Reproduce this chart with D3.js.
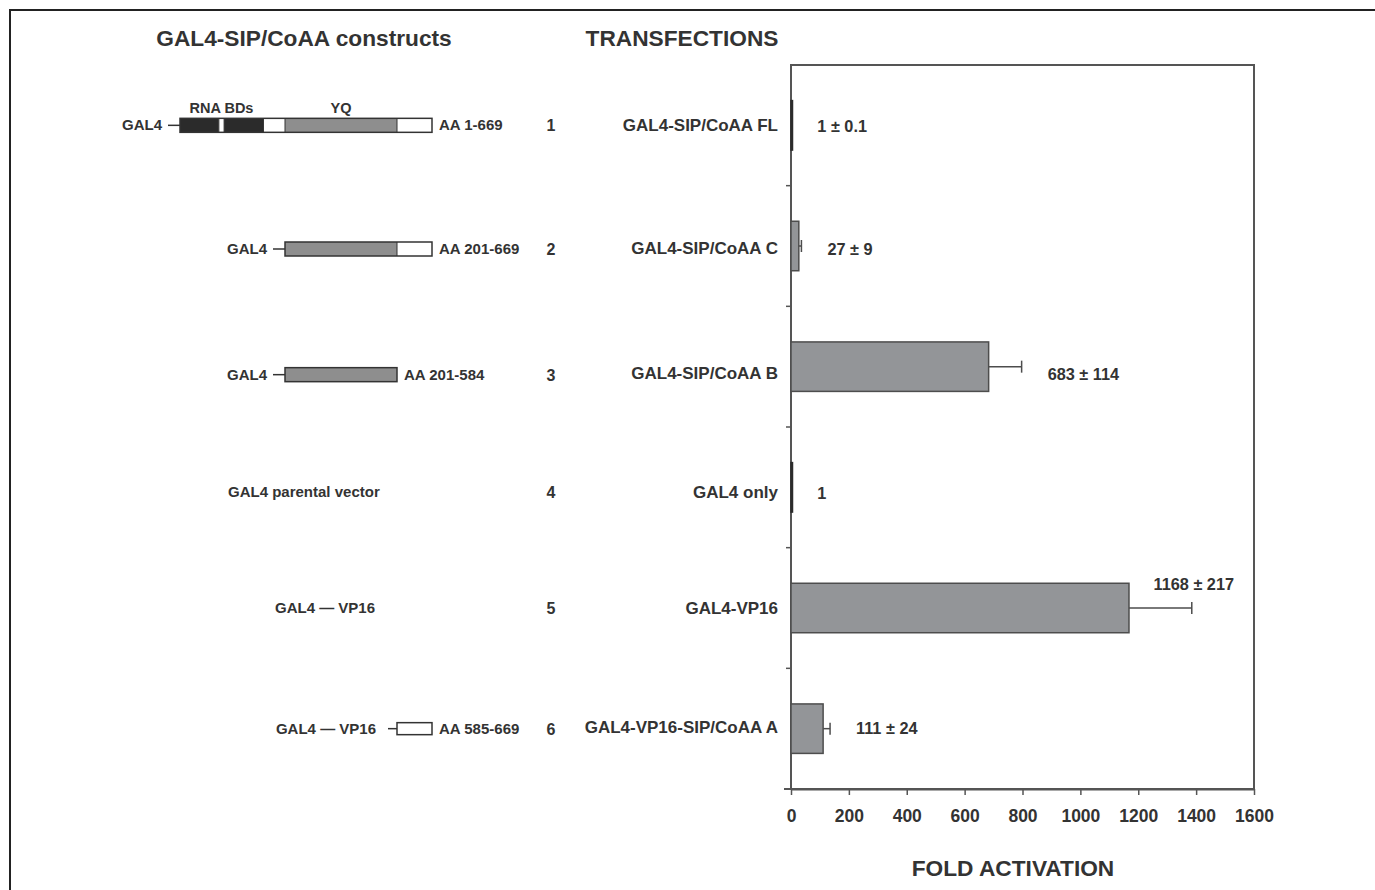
<!DOCTYPE html>
<html><head><meta charset="utf-8">
<script src="https://cdn.jsdelivr.net/npm/d3@7"></script>
<style>
html,body{margin:0;padding:0;background:#fff;}
svg{display:block;font-family:"Liberation Sans",Arial,sans-serif;font-weight:bold;}
</style></head>
<body>
<svg id="chart" width="1375" height="890"></svg>
<script>
// ---- data ----
const categories = ["GAL4-SIP/CoAA FL","GAL4-SIP/CoAA C","GAL4-SIP/CoAA B","GAL4 only","GAL4-VP16","GAL4-VP16-SIP/CoAA A"];
const values = [1, 27, 683, 1, 1168, 111];
const errors = [0.1, 9, 114, 0, 217, 24];
const valueLabels = ["1 \u00b1 0.1","27 \u00b1 9","683 \u00b1 114","1","1168 \u00b1 217","111 \u00b1 24"];
const xTicks = [0,200,400,600,800,1000,1200,1400,1600];
const constructNumbers = ["1","2","3","4","5","6"];
const constructPrefix = ["GAL4","GAL4","GAL4","GAL4 parental vector","GAL4 \u2014 VP16","GAL4 \u2014 VP16"];
const constructSuffix = ["AA 1-669","AA 201-669","AA 201-584","","","AA 585-669"];
// segments: [startAA, endAA, type]
const constructSegments = [
  [[1,75,"rna"],[75,85,"white"],[85,160,"rna"],[160,201,"white"],[201,585,"yq"],[585,669,"white"]],
  [[201,585,"yq"],[585,669,"white"]],
  [[201,585,"yq"]],
  [],
  [],
  [[585,669,"white"]]
];
const domainLabels = [["RNA BDs", 80], ["YQ", 393]];

const svg = d3.select("#chart");
const ink = "#333";

// outer frame
svg.append("rect").attr("x",10).attr("y",10).attr("width",1400).attr("height",900)
  .attr("fill","none").attr("stroke","#222").attr("stroke-width",2);

// titles
svg.append("text").attr("x",304).attr("y",46).attr("text-anchor","middle")
  .attr("font-size",22.7).attr("fill",ink).text("GAL4-SIP/CoAA constructs");
svg.append("text").attr("x",682).attr("y",46).attr("text-anchor","middle")
  .attr("font-size",22.7).attr("fill",ink).text("TRANSFECTIONS");

// scales
const plot = {left:791, right:1254, top:65, bottom:789};
const x = d3.scaleLinear().domain([0,1600]).range([plot.left, plot.right]);
const y = d3.scaleBand().domain(categories).range([plot.top, plot.bottom]).paddingInner(0.59).paddingOuter(0.295);
const yOuter = d3.scaleBand().domain(categories).range([plot.top, plot.bottom]);
const rowY = i => yOuter(categories[i]) + yOuter.bandwidth()/2;
const rowShift = [0, 2, 6, 5, 0, -2];
const labelRowY = i => rowY(i) + rowShift[i];

// plot frame
svg.append("rect").attr("x",plot.left).attr("y",plot.top)
  .attr("width",plot.right-plot.left).attr("height",plot.bottom-plot.top)
  .attr("fill","none").attr("stroke","#555").attr("stroke-width",2);

// y boundary ticks
svg.append("g").selectAll("line").data(categories.slice(1)).join("line")
  .attr("x1",plot.left-5).attr("x2",plot.left)
  .attr("y1",d=>yOuter(d)).attr("y2",d=>yOuter(d))
  .attr("stroke","#555").attr("stroke-width",1.5);

// x axis
const xAxis = svg.append("g").attr("transform",`translate(0,${plot.bottom})`)
  .call(d3.axisBottom(x).tickValues(xTicks).tickFormat(d3.format("d")).tickSize(6).tickPadding(15).tickSizeOuter(0));
xAxis.select(".domain").attr("stroke","#555").attr("stroke-width",2);
xAxis.selectAll(".tick line").attr("stroke","#555").attr("stroke-width",1.5);
xAxis.selectAll(".tick text").attr("font-size",17.5).attr("font-family","Liberation Sans, Arial, sans-serif")
  .attr("font-weight","bold").attr("fill",ink);
svg.append("line").attr("x1",plot.left-7).attr("x2",plot.left).attr("y1",plot.bottom).attr("y2",plot.bottom)
  .attr("stroke","#555").attr("stroke-width",2);

svg.append("text").attr("x",1013).attr("y",876).attr("text-anchor","middle")
  .attr("font-size",22.7).attr("fill",ink).text("FOLD ACTIVATION");

// category labels
svg.append("g").selectAll("text").data(categories).join("text")
  .attr("x",778).attr("y",(d,i)=>labelRowY(i)+6).attr("text-anchor","end")
  .attr("font-size",17).attr("fill",ink).text(d=>d);

// bars
const bars = svg.append("g");
categories.forEach((c,i)=>{
  const w = x(values[i]) - x(0);
  const small = w < 3;
  bars.append("rect").attr("x",x(0)).attr("y",y(c))
    .attr("width",Math.max(w,1.5)).attr("height",y.bandwidth())
    .attr("fill", small ? "#2b2b2b" : "#939598")
    .attr("stroke", small ? "#2b2b2b" : "#4d4d4d").attr("stroke-width",1.5);
  if (errors[i] > 0.5) {
    const cy = y(c) + y.bandwidth()/2;
    const x1 = x(values[i]), x2 = x(values[i]+errors[i]);
    bars.append("line").attr("x1",x1).attr("x2",x2).attr("y1",cy).attr("y2",cy)
      .attr("stroke","#4d4d4d").attr("stroke-width",1.5);
    bars.append("line").attr("x1",x2).attr("x2",x2).attr("y1",cy-6).attr("y2",cy+6)
      .attr("stroke","#4d4d4d").attr("stroke-width",1.5);
  }
});

// value labels
svg.append("g").selectAll("text").data(valueLabels).join("text")
  .attr("x",(d,i)=> i===4 ? x(values[i]+errors[i]) + 2 : x(values[i]+errors[i]) + 26)
  .attr("y",(d,i)=> i===4 ? y(categories[i]) + 7 : labelRowY(i)+7)
  .attr("text-anchor",(d,i)=> i===4 ? "middle" : "start")
  .attr("font-size",16.3).attr("fill",ink).text(d=>d);

// ---- constructs panel ----
const aa = d3.scaleLinear().domain([1,201,585,669]).range([180,285,397,432]);
const fills = {rna:"#2b2b2b", yq:"#8e8e8e", white:"#ffffff"};
const left = svg.append("g");
const leftRowY = i => rowY(i) + (i===1?3:i===2?8:i===3?5:0);

constructSegments.forEach((segs,i)=>{
  const cy = leftRowY(i);
  const h = i===5 ? 12 : 14;
  left.append("text").attr("x",551).attr("y",cy+6).attr("text-anchor","middle")
    .attr("font-size",16).attr("fill",ink).text(constructNumbers[i]);
  if (segs.length) {
    const start = d3.min(segs,s=>s[0]), end = d3.max(segs,s=>s[1]);
    const bx0 = aa(start), bx1 = aa(end);
    const conn = i===5 ? 9 : 12;
    const gap = i===5 ? 12 : 6;
    left.append("line").attr("x1",bx0-conn).attr("x2",bx0).attr("y1",cy).attr("y2",cy)
      .attr("stroke",ink).attr("stroke-width",1.5);
    segs.forEach(s=>{
      left.append("rect").attr("x",aa(s[0])).attr("y",cy-h/2)
        .attr("width",aa(s[1])-aa(s[0])).attr("height",h)
        .attr("fill",fills[s[2]]).attr("stroke","none");
    });
    left.append("rect").attr("x",bx0).attr("y",cy-h/2).attr("width",bx1-bx0).attr("height",h)
      .attr("fill","none").attr("stroke","#333").attr("stroke-width",1.5);
    segs.slice(1).forEach(s=>{
      left.append("line").attr("x1",aa(s[0])).attr("x2",aa(s[0]))
        .attr("y1",cy-h/2).attr("y2",cy+h/2).attr("stroke","#333").attr("stroke-width",1);
    });
    left.append("text").attr("x",bx0-conn-gap).attr("y",cy+5).attr("text-anchor","end")
      .attr("font-size",15).attr("fill",ink).text(constructPrefix[i]);
    left.append("text").attr("x",bx1+7).attr("y",cy+5).attr("text-anchor","start")
      .attr("font-size",15).attr("fill",ink).text(constructSuffix[i]);
  } else {
    left.append("text").attr("x", i===3 ? 228 : 275).attr("y",cy+5).attr("text-anchor","start")
      .attr("font-size",15).attr("fill",ink).text(constructPrefix[i]);
  }
});
domainLabels.forEach(d=>{
  left.append("text").attr("x",aa(d[1])).attr("y",leftRowY(0)-12).attr("text-anchor","middle")
    .attr("font-size",14.5).attr("fill",ink).text(d[0]);
});
</script>
</body></html>
